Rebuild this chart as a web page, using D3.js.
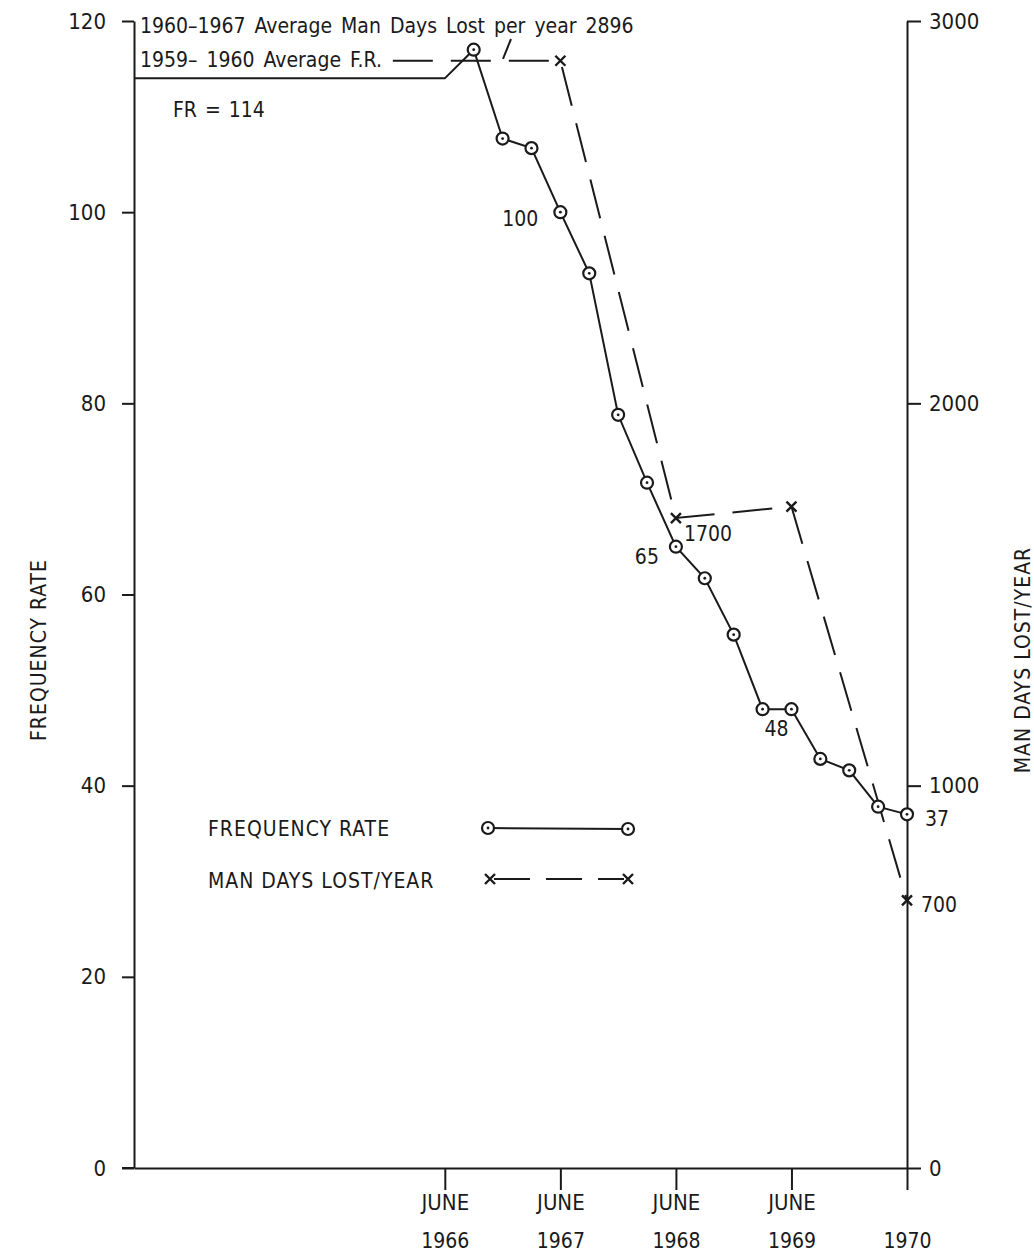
<!DOCTYPE html>
<html>
<head>
<meta charset="utf-8">
<script src="https://cdn.jsdelivr.net/npm/d3@7"></script>
<style>
  body { margin: 0; background: #fff; }
  svg text { font-family: "Liberation Sans Narrow", "DejaVu Sans Condensed", sans-serif; fill: #1a1a1a; }
</style>
</head>
<body>
<div id="chart"></div>
<script>
// frequency rate, quarterly readings (t = year of the June mark)
const frTimes = [1966.25, 1966.5, 1966.75, 1967, 1967.25, 1967.5, 1967.75, 1968,
  1968.25, 1968.5, 1968.75, 1969, 1969.25, 1969.5, 1969.75, 1970];
const frValues = [117, 107.7, 106.7, 100, 93.6, 78.8, 71.7, 65,
  61.7, 55.8, 48, 48, 42.8, 41.6, 37.8, 37];
// 1959-1960 average F.R. baseline
const frBaseTimes = [1963.31, 1966];
const frBaseValues = [114, 114];

// man days lost per year
const mdTimes = [1965.55, 1967, 1968, 1969, 1970];
const mdValues = [2896, 2896, 1700, 1730, 700];
const mdMarked = [false, true, true, true, true];

const frTicks = [0, 20, 40, 60, 80, 100, 120];
const mdTicks = [0, 1000, 2000, 3000];
const xTicks = [1966, 1967, 1968, 1969, 1970];
const xTickTop = ['JUNE', 'JUNE', 'JUNE', 'JUNE', ''];
const xTickYear = ['1966', '1967', '1968', '1969', '1970'];

// point labels: [series, index, text, dx, dy, anchor]
const pointLabels = [
  ['fr', 3, '100', -22, 14, 'end'],
  ['fr', 7, '65', -17, 17, 'end'],
  ['fr', 10, '48', 14, 27, 'middle'],
  ['fr', 15, '37', 18, 12, 'start'],
  ['md', 2, '1700', 8, 23, 'start'],
  ['md', 4, '700', 14, 12, 'start']
];

const width = 1034;
const height = 1255;
const plotLeft = 134;
const plotRight = 907;
const plotTop = 21;
const plotBottom = 1168;

const svg = d3.select('#chart').append('svg')
  .attr('width', width)
  .attr('height', height);

const x = d3.scaleLinear().domain([1963.31, 1970]).range([plotLeft, plotRight]);
const yFR = d3.scaleLinear().domain([0, 120]).range([plotBottom, plotTop]);
const yMD = d3.scaleLinear().domain([0, 3000]).range([plotBottom, plotTop]);

const ink = '#1a1a1a';

// axes
const gLeft = svg.append('g')
  .attr('transform', `translate(${plotLeft},0)`)
  .call(d3.axisLeft(yFR).tickValues(frTicks).tickSize(12).tickSizeOuter(0).tickPadding(16));
const gRight = svg.append('g')
  .attr('transform', `translate(${plotRight},0)`)
  .call(d3.axisRight(yMD).tickValues(mdTicks).tickFormat(d3.format('d'))
    .tickSize(14).tickSizeOuter(0).tickPadding(8));
const gBottom = svg.append('g')
  .attr('transform', `translate(0,${plotBottom})`)
  .call(d3.axisBottom(x).tickValues(xTicks).tickSize(22).tickSizeOuter(0).tickFormat(''));

// bottom line runs a bit past the left axis
svg.append('line')
  .attr('x1', plotLeft - 12).attr('x2', plotLeft)
  .attr('y1', plotBottom).attr('y2', plotBottom)
  .attr('stroke', ink).attr('stroke-width', 2);

[gLeft, gRight, gBottom].forEach(g => {
  g.selectAll('path.domain').attr('stroke', ink).attr('stroke-width', 2);
  g.selectAll('.tick line').attr('stroke', ink).attr('stroke-width', 2);
  g.selectAll('.tick text').attr('font-size', 22).style('font-family', null);
});

gBottom.selectAll('.tick').each(function (d, i) {
  const t = d3.select(this);
  t.append('text').attr('y', 42).attr('text-anchor', 'middle')
    .attr('font-size', 22).text(xTickTop[i]);
  t.append('text').attr('y', 80).attr('text-anchor', 'middle')
    .attr('font-size', 21).text(xTickYear[i]);
});

// axis titles
svg.append('text')
  .attr('transform', `translate(46,650) rotate(-90)`)
  .attr('text-anchor', 'middle')
  .attr('font-size', 21)
  .attr('letter-spacing', 1)
  .text('FREQUENCY  RATE');
svg.append('text')
  .attr('transform', `translate(1030,660) rotate(-90)`)
  .attr('text-anchor', 'middle')
  .attr('font-size', 21)
  .attr('letter-spacing', 1)
  .text('MAN  DAYS  LOST/YEAR');

// series
const frLine = d3.line().x(d => x(d[0])).y(d => yFR(d[1]));
const mdLine = d3.line().x(d => x(d[0])).y(d => yMD(d[1]));

const frBase = frBaseTimes.map((t, i) => [t, frBaseValues[i]]);
const frPts = frTimes.map((t, i) => [t, frValues[i]]);
const mdPts = mdTimes.map((t, i) => [t, mdValues[i]]);

svg.append('path')
  .attr('d', mdLine(mdPts))
  .attr('fill', 'none').attr('stroke', ink).attr('stroke-width', 2)
  .attr('stroke-dasharray', '40,18');

svg.append('path')
  .attr('d', frLine(frBase.concat(frPts)))
  .attr('fill', 'none').attr('stroke', ink).attr('stroke-width', 2);

function circleMark(g, cx, cy) {
  g.append('circle').attr('cx', cx).attr('cy', cy).attr('r', 6)
    .attr('fill', '#fff').attr('stroke', ink).attr('stroke-width', 2.2);
  g.append('circle').attr('cx', cx).attr('cy', cy).attr('r', 1.4).attr('fill', ink);
}
function crossMark(g, cx, cy) {
  const s = 5;
  g.append('path')
    .attr('d', `M${cx - s},${cy - s}L${cx + s},${cy + s}M${cx - s},${cy + s}L${cx + s},${cy - s}`)
    .attr('stroke', ink).attr('stroke-width', 2.4);
}

const marks = svg.append('g');
frPts.forEach(d => circleMark(marks, x(d[0]), yFR(d[1])));
mdPts.forEach((d, i) => { if (mdMarked[i]) crossMark(marks, x(d[0]), yMD(d[1])); });

// point labels
pointLabels.forEach(([s, i, txt, dx, dy, anchor]) => {
  const px = s === 'fr' ? x(frTimes[i]) : x(mdTimes[i]);
  const py = s === 'fr' ? yFR(frValues[i]) : yMD(mdValues[i]);
  svg.append('text')
    .attr('x', px + dx).attr('y', py + dy)
    .attr('text-anchor', anchor)
    .attr('font-size', 21)
    .text(txt);
});

// notes at top
svg.append('text').attr('x', 140).attr('y', 33).attr('font-size', 21)
  .attr('word-spacing', 3)
  .text('1960–1967 Average Man Days Lost per year  2896');
svg.append('text').attr('x', 140).attr('y', 67).attr('font-size', 21)
  .attr('word-spacing', 3)
  .text('1959– 1960 Average  F.R.');
svg.append('text').attr('x', 173).attr('y', 117).attr('font-size', 21)
  .attr('word-spacing', 2)
  .text('FR  =  114');
// leader from the note down to the dashed line
svg.append('line')
  .attr('x1', 511).attr('y1', 39)
  .attr('x2', 503).attr('y2', yMD(2896) - 2)
  .attr('stroke', ink).attr('stroke-width', 2);

// legend
const legend = svg.append('g');
legend.append('text').attr('x', 208).attr('y', 836).attr('font-size', 21)
  .attr('letter-spacing', 1).text('FREQUENCY  RATE');
legend.append('line').attr('x1', 488).attr('x2', 628).attr('y1', 828).attr('y2', 829)
  .attr('stroke', ink).attr('stroke-width', 2);
circleMark(legend, 488, 828);
circleMark(legend, 628, 829);

legend.append('text').attr('x', 208).attr('y', 888).attr('font-size', 21)
  .attr('letter-spacing', 1).text('MAN  DAYS  LOST/YEAR');
legend.append('line').attr('x1', 494).attr('x2', 624).attr('y1', 879).attr('y2', 879)
  .attr('stroke', ink).attr('stroke-width', 2).attr('stroke-dasharray', '36,16');
crossMark(legend, 490, 879);
crossMark(legend, 628, 879);
</script>
</body>
</html>
